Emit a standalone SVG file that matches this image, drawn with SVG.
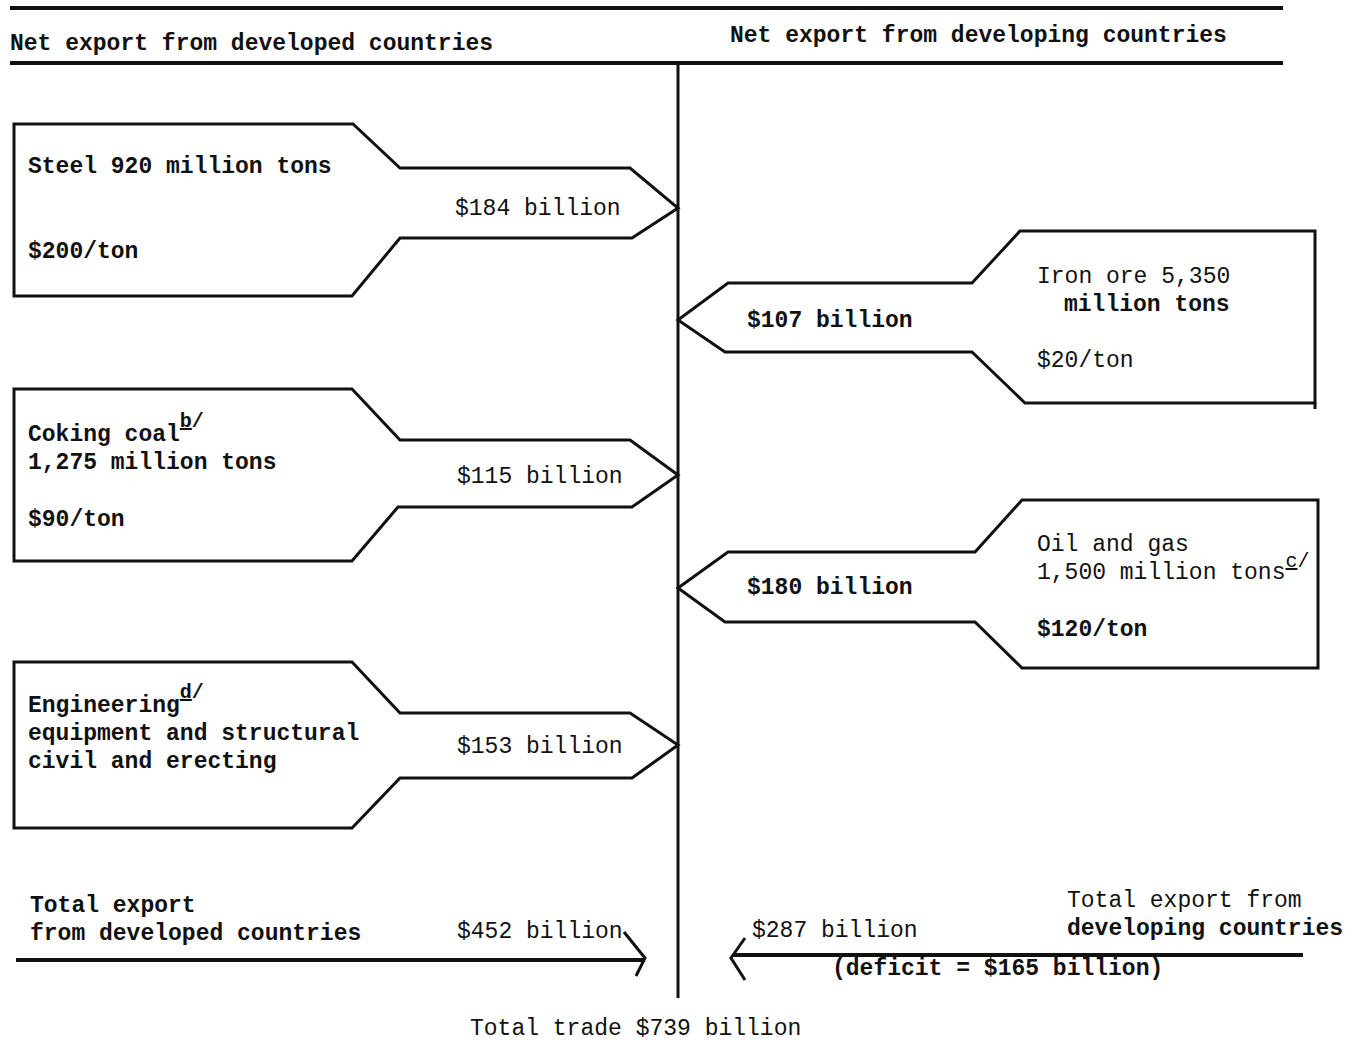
<svg xmlns="http://www.w3.org/2000/svg" width="1358" height="1042" viewBox="0 0 1358 1042">
<style>
text{font-family:"Liberation Mono","DejaVu Sans Mono",monospace;font-size:23px;font-weight:bold;fill:#111}
.lt{font-weight:normal}
.sup{font-size:20px}
.shape{fill:none;stroke:#111;stroke-width:3;stroke-linejoin:miter}
.rule{stroke:#111;stroke-width:4;fill:none}
.ln{stroke:#111;stroke-width:3;fill:none}
</style>
<rect width="1358" height="1042" fill="#fff"/>
<g id="header">
<line class="rule" x1="10" y1="8" x2="1283" y2="8"/>
<text x="10" y="50">Net export from developed countries</text>
<text x="730" y="42">Net export from developing countries</text>
<line class="rule" x1="10" y1="63" x2="1283" y2="63"/>
</g>
<g id="connectors">
<line class="ln" x1="678" y1="63" x2="678" y2="998"/>
<line class="rule" x1="16" y1="960" x2="645" y2="960"/>
<polyline class="ln" points="624,932 645,958 636,976"/>
<line class="rule" x1="733" y1="955" x2="1303" y2="955"/>
<polyline class="ln" points="745,938 731,958 745,980"/>
</g>
<g id="steel">
<path class="shape" d="M14,124 H353 L400,168 H630 L678,208 L632,238 H400 L352,296 H14 Z"/>
<text x="28" y="173">Steel 920 million tons</text>
<text x="28" y="258">$200/ton</text>
<text class="lt" x="455" y="215">$184 billion</text>
</g>
<g id="iron-ore">
<path class="shape" d="M1315,231 H1020 L972,283 H728 L678,320 L725,352 H972 L1025,403 H1315 Z"/>
<line class="ln" x1="1315" y1="403" x2="1315" y2="409"/>
<text class="lt" x="1037" y="283">Iron ore 5,350</text>
<text x="1064" y="311">million tons</text>
<text class="lt" x="1037" y="367">$20/ton</text>
<text x="747" y="327">$107 billion</text>
</g>
<g id="coking-coal">
<path class="shape" d="M14,389 H352 L400,440 H630 L678,475 L632,507 H398 L352,561 H14 Z"/>
<text x="28" y="441">Coking coal<tspan class="sup" dy="-14" text-decoration="underline">b</tspan><tspan class="sup">/</tspan></text>
<text x="28" y="469">1,275 million tons</text>
<text x="28" y="526">$90/ton</text>
<text class="lt" x="457" y="483">$115 billion</text>
</g>
<g id="oil-gas">
<path class="shape" d="M1318,500 H1022 L975,552 H728 L678,588 L725,622 H975 L1022,668 H1318 Z"/>
<text class="lt" x="1037" y="551">Oil and gas</text>
<text class="lt" x="1037" y="579">1,500 million tons<tspan class="sup" dy="-12" text-decoration="underline">c</tspan><tspan class="sup">/</tspan></text>
<text x="1037" y="636">$120/ton</text>
<text x="747" y="594">$180 billion</text>
</g>
<g id="engineering">
<path class="shape" d="M14,662 H352 L400,713 H630 L678,745 L632,778 H400 L352,828 H14 Z"/>
<text x="28" y="712">Engineering<tspan class="sup" dy="-14" text-decoration="underline">d</tspan><tspan class="sup">/</tspan></text>
<text x="28" y="740">equipment and structural</text>
<text x="28" y="768">civil and erecting</text>
<text class="lt" x="457" y="753">$153 billion</text>
</g>
<g id="totals">
<text x="30" y="912">Total export</text>
<text x="30" y="940">from developed countries</text>
<text class="lt" x="457" y="938">$452 billion</text>
<text class="lt" x="752" y="937">$287 billion</text>
<text class="lt" x="1067" y="907">Total export from</text>
<text x="1067" y="935">developing countries</text>
<text x="832" y="975">(deficit = $165 billion)</text>
<text class="lt" x="470" y="1035">Total trade $739 billion</text>
</g>
</svg>
